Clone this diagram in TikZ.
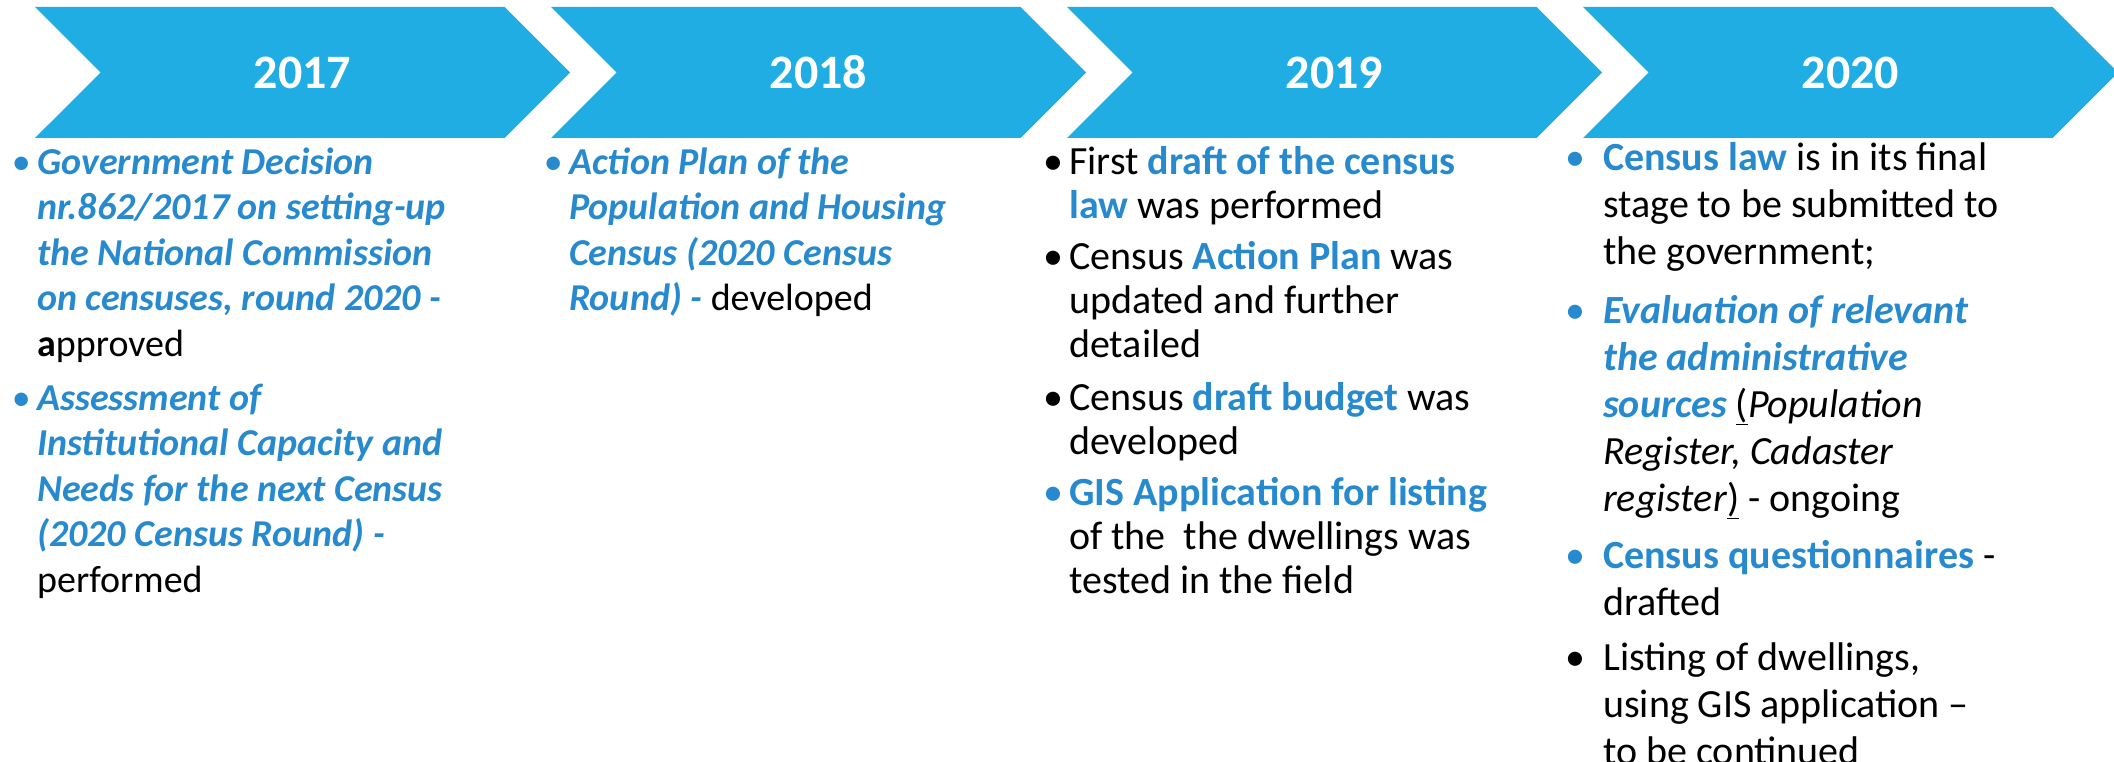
\documentclass[tikz,border=0pt]{standalone}
\usepackage{fontspec}
\setmainfont{Carlito}
\usetikzlibrary{shapes.symbols}

\definecolor{chevblue}{RGB}{31,173,228}
\definecolor{textblue}{RGB}{40,138,206}

\newcommand{\bi}[1]{\textcolor{textblue}{\bfseries\itshape #1}}
\newcommand{\bb}[1]{\textcolor{textblue}{\bfseries #1}}
\newcommand{\bul}[2]{\llap{\textcolor{#1}{\textbullet}\hspace{#2}}\strut}

\begin{document}
\begin{tikzpicture}[x=1pt, y=-1pt, node distance=516pt]
\tikzstyle{chev} = [signal, signal to=east, signal from=west, signal pointer angle=90, fill=chevblue, minimum width=535pt, minimum height=131pt, inner sep=0pt, text=white, font=\fontsize{48}{58}\selectfont\bfseries]
\tikzstyle{col} = [anchor=north west, align=left, inner sep=0pt, font=\fontsize{38}{45.6}\selectfont]

\useasboundingbox (0,0) rectangle (2114,762);

\node [chev] (y17) at (302.5,72.5) {2017};
\node [chev, right of=y17] (y18) {2018};
\node [chev, right of=y18] (y19) {2019};
\node [chev, right of=y19] (y20) {2020};

\node [col] (c17) at (37,142) {\bul{textblue}{6.5pt}\bi{Government Decision}\\
\bi{nr.862/2017 on setting-up}\\
\bi{the National Commission}\\
\bi{on censuses, round 2020 -}\\
\textbf{a}pproved\\[8pt]
\bul{textblue}{6.5pt}\bi{Assessment of}\\
\bi{Institutional Capacity and}\\
\bi{Needs for the next Census}\\
\bi{(2020 Census Round) -}\\
performed};

\node [col] (c18) at (569,142) {\bul{textblue}{6.5pt}\bi{Action Plan of the}\\
\bi{Population and Housing}\\
\bi{Census (2020 Census}\\
\bi{Round) -} developed};

\node [col, font=\fontsize{40}{44}\selectfont] (c19) at (1069,143) {\bul{black}{6pt}First \bb{draft of the census}\\
\bb{law} was performed\\[7.5pt]
\bul{black}{6pt}Census \bb{Action Plan} was\\
updated and further\\
detailed\\[8.5pt]
\bul{black}{6pt}Census \bb{draft budget} was\\
developed\\[7pt]
\bul{textblue}{6pt}\bb{GIS Application for listing}\\
of the\ \ the dwellings was\\
tested in the field};

\node [col, font=\fontsize{40}{47}\selectfont] (c20) at (1603,137) {\bul{textblue}{18pt}\bb{Census law} is in its final\\
stage to be submitted to\\
the government;\\[12pt]
\bul{textblue}{18pt}\bi{Evaluation of relevant}\\
\bi{the administrative}\\
\bi{sources} \underline{(}\textit{Population}\\
\textit{Register, Cadaster}\\
\textit{register}\underline{)} - ongoing\\[10pt]
\bul{textblue}{18pt}\bb{Census questionnaires} -\\
drafted\\[8pt]
\bul{black}{18pt}Listing of dwellings,\\
using GIS application –\\
to be continued};

\end{tikzpicture}
\end{document}
